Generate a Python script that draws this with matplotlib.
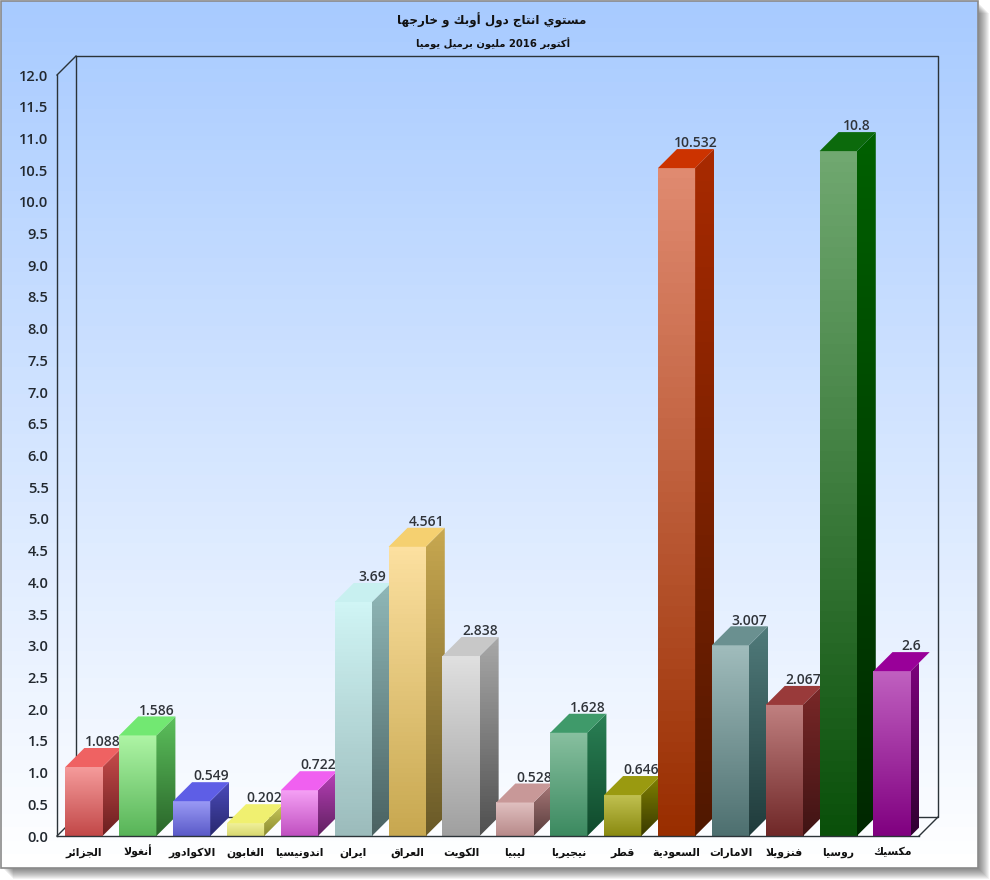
# -*- coding: utf-8 -*-
import re
import numpy as np
import matplotlib
matplotlib.use('Agg')
from matplotlib import pyplot as plt
from matplotlib.colors import to_rgb
from matplotlib.patches import Polygon, Rectangle

title = 'مستوي انتاج دول أوبك و خارجها'
subtitle = 'أكتوبر 2016 مليون برميل يوميا'
countries = ['الجزائر', 'أنغولا', 'الاكوادور', 'الغابون', 'اندونيسيا', 'ايران', 'العراق', 'الكويت',
             'ليبيا', 'نيجيريا', 'قطر', 'السعودية', 'الامارات', 'فنزويلا', 'روسيا', 'مكسيك']
values = [1.088, 1.586, 0.549, 0.202, 0.722, 3.69, 4.561, 2.838,
          0.528, 1.628, 0.646, 10.532, 3.007, 2.067, 10.8, 2.6]
y_ticks = np.arange(0, 12.5, 0.5)

# top face, front top, front bottom, side top, side bottom
face_colors = [
    ('#ef6262', '#f59b9b', '#c24848', '#c84c4c', '#6b1f1f'),
    ('#72e872', '#aef5a5', '#58b458', '#5cc05c', '#2a662a'),
    ('#5e5ee6', '#9a9af5', '#5a5ac8', '#4b4bbb', '#28286e'),
    ('#f0f070', '#f0f09a', '#d8d870', '#c9c95a', '#8a8a30'),
    ('#f060f0', '#f5a0f5', '#c050c0', '#b840b8', '#602060'),
    ('#c8f0f0', '#d0f5f5', '#9cbcbc', '#90b8b8', '#4a6262'),
    ('#f5d070', '#fce0a0', '#c8a850', '#c8a850', '#6a5a28'),
    ('#c8c8c8', '#e0e0e0', '#a0a0a0', '#a8a8a8', '#505050'),
    ('#c89898', '#e0c0c0', '#b88a8a', '#a87878', '#583c3c'),
    ('#3f9a6a', '#88c0a0', '#3c8a60', '#2a8055', '#104a2c'),
    ('#9a9a10', '#c0c050', '#8a8a10', '#808000', '#3a3a00'),
    ('#cc3300', '#e08a70', '#992e00', '#a82a00', '#501800'),
    ('#6a9090', '#a0bcbc', '#4e7070', '#507a7a', '#203c3c'),
    ('#993a3a', '#c08080', '#702828', '#7a2828', '#401414'),
    ('#0c6a0c', '#70a870', '#0a500a', '#006000', '#002800'),
    ('#990099', '#c060c0', '#800080', '#800080', '#300030'),
]

# matplotlib has no arabic shaping, so use presentation forms in visual order
DUAL = {'ئ': 0xFE89, 'ب': 0xFE8F, 'ت': 0xFE95, 'ج': 0xFE9D, 'خ': 0xFEA5, 'س': 0xFEB1, 'ط': 0xFEC1,
        'ع': 0xFEC9, 'غ': 0xFECD, 'ف': 0xFED1, 'ق': 0xFED5, 'ك': 0xFED9, 'ل': 0xFEDD, 'م': 0xFEE1,
        'ن': 0xFEE5, 'ه': 0xFEE9, 'ي': 0xFEF1}
RIGHT = {'ا': 0xFE8D, 'أ': 0xFE83, 'ة': 0xFE93, 'د': 0xFEA9, 'ر': 0xFEAD, 'ز': 0xFEAF, 'و': 0xFEED}


def shape(text):
    text = text.replace('لا', '\uFEFB')
    out = []
    for i, c in enumerate(text):
        prev = text[i - 1] if i > 0 else ' '
        nxt = text[i + 1] if i + 1 < len(text) else ' '
        joined_prev = prev in DUAL
        joined_next = nxt in DUAL or nxt in RIGHT or nxt == '\uFEFB'
        if c == '\uFEFB':
            out.append('\uFEFC' if joined_prev else c)
        elif c in RIGHT:
            out.append(chr(RIGHT[c] + (1 if joined_prev else 0)))
        elif c in DUAL:
            if joined_prev and joined_next:
                out.append(chr(DUAL[c] + 3))
            elif joined_prev:
                out.append(chr(DUAL[c] + 1))
            elif joined_next:
                out.append(chr(DUAL[c] + 2))
            else:
                out.append(chr(DUAL[c]))
        else:
            out.append(c)
    visual = ''.join(out)[::-1]
    return re.sub(r'\d+', lambda m: m.group(0)[::-1], visual)


def gradient(top, bottom):
    t = np.linspace(0, 1, 64)[:, None, None]
    return (1 - t) * np.array(to_rgb(top)) + t * np.array(to_rgb(bottom))


W, H = 990, 880
fig = plt.figure(figsize=(W / 100, H / 100), dpi=100, facecolor='white')

# panel background and shadow, in pixels
bg = fig.add_axes([0, 0, 1, 1])
bg.set_xlim(0, W)
bg.set_ylim(H, 0)
bg.axis('off')
for k in range(10, 0, -1):
    bg.add_patch(Rectangle((3 + k, 3 + k), 976, 866, fc='black', ec='none', alpha=0.05))
bg.imshow(gradient('#a8cbff', '#ffffff'), extent=(1, 978, 868, 1), aspect='auto', zorder=2)
bg.add_patch(Rectangle((1, 1), 977, 867, fc='none', ec='#8a8a8a', lw=1.2, zorder=3))
bg.set_xlim(0, W)
bg.set_ylim(H, 0)

# main axes is the front plane of the 3d box
x0, x1, y_top, y_base = 57, 919, 75, 836
ax = fig.add_axes([x0 / W, 1 - y_base / H, (x1 - x0) / W, (y_base - y_top) / H])
ax.patch.set_alpha(0)
n = len(values)
dx = 19 / ((x1 - x0) / n)
dy = 19 / ((y_base - y_top) / 12)
bar_w = 0.69

line = dict(color='#2b3338', lw=1.0, clip_on=False, zorder=1)
ax.plot([-0.5 + dx, n - 0.5 + dx, n - 0.5 + dx, -0.5 + dx, -0.5 + dx],
        [dy, dy, 12 + dy, 12 + dy, dy], **line)
ax.plot([-0.5, -0.5 + dx], [12, 12 + dy], **line)
ax.plot([-0.5, -0.5 + dx], [0, dy], **line)
ax.plot([n - 0.5, n - 0.5 + dx], [0, dy], **line)

for i, (v, cols) in enumerate(zip(values, face_colors)):
    z = 5 + i * 2
    left, right = i - bar_w / 2, i + bar_w / 2
    ax.imshow(gradient(cols[1], cols[2]), extent=(left, right, 0, v), aspect='auto', zorder=z)
    side = ax.imshow(gradient(cols[3], cols[4]), extent=(right, right + dx, 0, v + dy),
                     aspect='auto', zorder=z)
    side.set_clip_path(Polygon([(right, 0), (right + dx, dy), (right + dx, v + dy), (right, v)],
                               transform=ax.transData))
    ax.add_patch(Polygon([(left, v), (right, v), (right + dx, v + dy), (left + dx, v + dy)],
                         fc=cols[0], ec='none', zorder=z, clip_on=False))
    ax.text(i + dx, v + dy - 0.02, str(v), ha='center', va='bottom', fontsize=10,
            family='Open Sans', fontweight='semibold', color='#30343a', zorder=z + 1)

ax.set_xlim(-0.5, n - 0.5)
ax.set_ylim(0, 12)
ax.set_xticks(range(n))
ax.set_xticklabels([shape(c) for c in countries], fontsize=7.8, fontweight='bold', color='#111111',
                   va='baseline')
ax.set_yticks(y_ticks)
ax.set_yticklabels(['%.1f' % t for t in y_ticks], fontsize=10.5, family='Open Sans',
                   fontweight='semibold', color='#22282f')
ax.tick_params(axis='both', length=0)
ax.tick_params(axis='y', pad=6)
ax.tick_params(axis='x', pad=14)
for s in ['top', 'right']:
    ax.spines[s].set_visible(False)
for s in ['left', 'bottom']:
    ax.spines[s].set_color('#2b3338')
    ax.spines[s].set_linewidth(1.0)
    ax.spines[s].set_zorder(40)

fig.text(492 / W, 1 - 20 / H, shape(title), ha='center', va='center', fontsize=8.6,
         fontweight='bold', color='#111111')
fig.text(493 / W, 1 - 44 / H, shape(subtitle), ha='center', va='center', fontsize=7.2,
         fontweight='bold', color='#111111')

fig.savefig('out.png', dpi=100)
